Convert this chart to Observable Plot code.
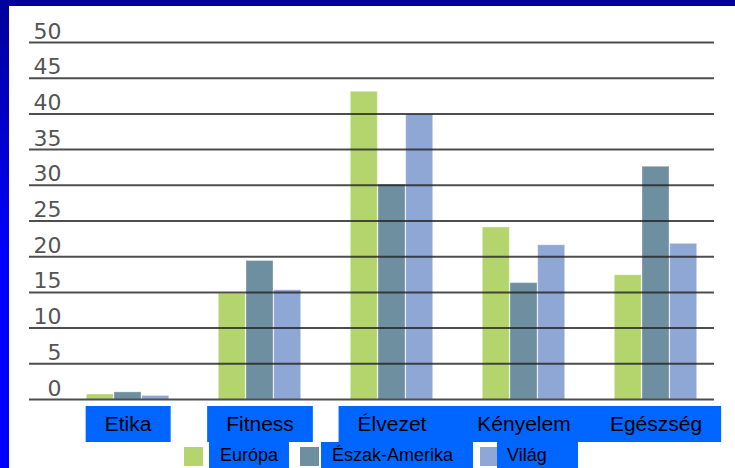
<!DOCTYPE html>
<html><head><meta charset="utf-8">
<script src="https://cdn.jsdelivr.net/npm/d3@7"></script>
<script src="https://cdn.jsdelivr.net/npm/@observablehq/plot@0.6"></script>
<style>
body{margin:0;background:#fff;}
#wrap{position:relative;width:735px;height:468px;background:#fff;overflow:hidden;font-family:"Liberation Sans",Arial,sans-serif;}
#topband{position:absolute;left:0;top:0;width:735px;height:6px;background:#000099;z-index:2;}
#leftband{position:absolute;left:0;top:0;width:9px;height:468px;background:linear-gradient(#000099,#0000ff 55%,#0000ff);z-index:2;}
#chart{position:absolute;left:0;top:0;}
#legend{position:absolute;left:0;top:442px;width:735px;height:26px;}
.sw{position:absolute;top:5px;width:19px;height:19px;}
.lb{position:absolute;top:0;height:26px;background:#0066ff;color:#000;font-size:18px;line-height:26px;box-sizing:border-box;}
</style>
</head><body>
<div id="wrap"><div id="topband"></div><div id="leftband"></div><div id="chart"></div><div id="legend"></div></div>
<script>
const categories = ["Etika","Fitness","Élvezet","Kényelem","Egészség"];
const series = ["Európa","Észak-Amerika","Világ"];
const europe = [0.7, 14.8, 43.1, 24.1, 17.4];
const northAmerica = [1.0, 19.4, 30.1, 16.3, 32.6];
const world = [0.5, 15.3, 39.9, 21.6, 21.8];
const yTicks = [0,5,10,15,20,25,30,35,40,45,50];
const colors = ["#b4d56e","#6d8fa0","#8fa7d4"];

const values = [europe, northAmerica, world];
const data = [];
series.forEach((s, si) => categories.forEach((c, ci) => data.push({category: c, series: s, value: values[si][ci]})));

const offsets = [-27.7, 0, 27.7];
const plot = Plot.plot({
  width: 735,
  height: 442,
  marginTop: 42,
  marginBottom: 43,
  marginLeft: 29,
  marginRight: 21,
  style: {background: "transparent", fontFamily: "'Liberation Sans', Arial, sans-serif", overflow: "visible"},
  x: {domain: categories, range: [61, 722], paddingInner: 0.7935, paddingOuter: 0.397, label: null},
  y: {domain: [0, 50], label: null},
  color: {domain: series, range: colors},
  marks: [
    ...series.map((s, i) => Plot.barY(data.filter(d => d.series === s), {
      x: "category", y: "value", fill: "series", dx: offsets[i],
      stroke: "#ffffff", strokeOpacity: 0.35, strokeWidth: 1
    })),
    Plot.ruleY(yTicks, {stroke: "#222", strokeWidth: 2, strokeOpacity: 0.8}),
    Plot.axisY({ticks: yTicks, tickSize: 0, tickPadding: 0, textAnchor: "end", dx: 32, dy: -11, fontSize: 22, fontFamily: "'DejaVu Sans', Verdana, sans-serif", fill: "#555", label: null}),
    Plot.axisX({tickSize: 0, tickPadding: 17, fontSize: 21, fill: "#000", label: null})
  ]
});
document.getElementById("chart").appendChild(plot);

// blue boxes behind category labels (close neighbours share one box)
const svgRect = plot.getBoundingClientRect();
const axisG = plot.querySelector("g[aria-label='x-axis tick label']");
if (axisG) {
  const spans = [];
  axisG.querySelectorAll("text").forEach(t => {
    const r = t.getBoundingClientRect();
    spans.push({a: r.left - svgRect.left, b: r.right - svgRect.left});
  });
  spans.sort((p, q) => p.a - q.a);
  const merged = [];
  spans.forEach(s => {
    const last = merged.length ? merged[merged.length - 1] : null;
    if (last !== null && (s.a - last.b) < 60) { last.b = s.b; }
    else { merged.push({a: s.a, b: s.b}); }
  });
  const ns = "http://www.w3.org/2000/svg";
  const boxes = document.createElementNS(ns, "g");
  axisG.parentNode.insertBefore(boxes, axisG);
  const pad = 19;
  merged.forEach(m => {
    const rect = document.createElementNS(ns, "rect");
    rect.setAttribute("x", m.a - pad);
    rect.setAttribute("width", m.b - m.a + 2 * pad);
    rect.setAttribute("y", 406);
    rect.setAttribute("height", 36);
    rect.setAttribute("fill", "#0066ff");
    boxes.appendChild(rect);
  });
}

// legend
const legendSwatchX = [184, 300, 480];
const legendBoxX = [209, 321, 497];
const legendBoxW = [80, 152, 81];
const legendPad = [11, 11, 10];
const color = plot.scale("color");
const leg = d3.select("#legend");
series.forEach((s, i) => {
  leg.append("div").attr("class", "sw").style("left", legendSwatchX[i] + "px").style("background", color.range[i]);
  leg.append("div").attr("class", "lb").style("left", legendBoxX[i] + "px").style("width", legendBoxW[i] + "px")
    .style("padding-left", legendPad[i] + "px").text(s);
});
</script>
</body></html>
